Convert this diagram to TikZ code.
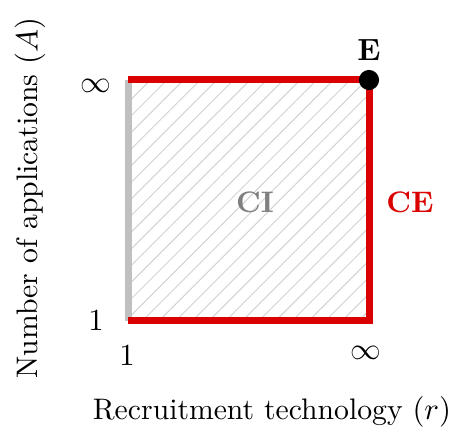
\documentclass[tikz,border=0pt]{standalone}
\usepackage{amsmath}
\usetikzlibrary{patterns.meta}
\definecolor{EdgeRed}{RGB}{218,0,0}
\definecolor{EdgeGray}{RGB}{192,192,192}
\definecolor{TextGray}{RGB}{128,128,128}
\definecolor{HatchGray}{RGB}{210,210,210}

\begin{document}
\begin{tikzpicture}[x=0.357pt,y=-0.357pt,
  edge/.style={line width=2.5pt},
  lbl/.style={inner sep=0pt,font=\fontsize{10.6pt}{13pt}\selectfont}]
  \useasboundingbox (0,0) rectangle (454,430);
  \coordinate (SW) at (128,321);
  \coordinate (SE) at (369,321);
  \coordinate (NE) at (369,80);
  \coordinate (NW) at (128,80);
  % hatched region
  \fill[pattern={Lines[angle=45,distance=4.2pt,line width=0.35pt]},pattern color=HatchGray]
    (SW) rectangle (NE);
  \draw[edge,EdgeGray] (SW) -- (NW);
  \draw[edge,EdgeRed,line join=miter] (NW) -- (NE) -- (SE) -- (SW);
  \fill (NE) circle[radius=3.6pt];
  % labels
  \node[lbl] (e) at (369,50) {$\mathbf{E}$};
  \node[lbl,EdgeRed] (ce) at (410,202) {\bfseries CE};
  \node[lbl,TextGray] (ci) at (255,202) {\bfseries CI};
  \node[lbl] (yinf) at (96,86) {$\infty$};
  \node[lbl] (yone) at (96,321) {$1$};
  \node[lbl] (xone) at (127,356) {$1$};
  \node[lbl] (xinf) at (366,353) {$\infty$};
  \node[lbl] (xlab) at (272,412) {Recruitment technology $(r)$};
  \node[lbl,rotate=90] (ylab) at (30,198) {Number of applications $(A)$};
\end{tikzpicture}
\end{document}
